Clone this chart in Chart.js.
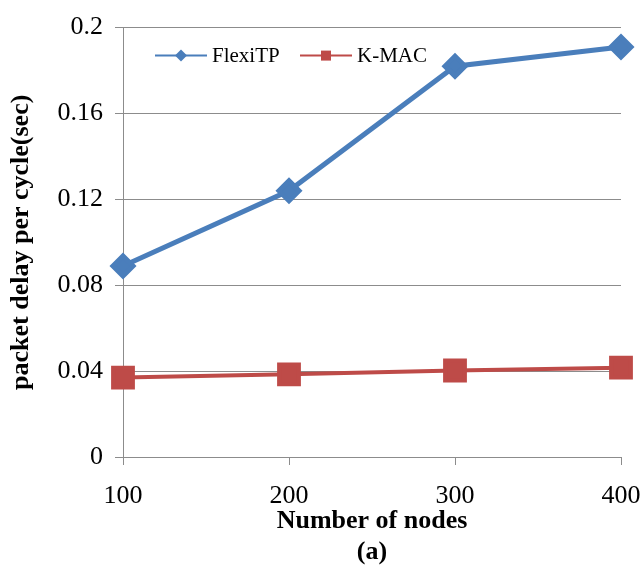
<!DOCTYPE html>
<html>
<head>
<meta charset="utf-8">
<script src="https://cdn.jsdelivr.net/npm/chart.js@4"></script>
<style>
  html, body { margin: 0; padding: 0; background: #fff; }
  #wrap { width: 644px; height: 568px; }
</style>
</head>
<body>
<div id="wrap"><canvas id="c" width="644" height="568"></canvas></div>
<script>
const nodes = [100, 200, 300, 400];
const flexiTP = [0.089, 0.124, 0.182, 0.191];
const kMac = [0.037, 0.0385, 0.0403, 0.0416];
const yTicks = [0, 0.04, 0.08, 0.12, 0.16, 0.2];

const BLUE = "#4a7ebb";
const RED = "#be4b48";
const GRID = "#8c8c8c";
const SERIF = "'Liberation Serif', 'DejaVu Serif', serif";

// legend drawn inside the plot, like the original
const insideLegend = {
  id: "insideLegend",
  afterDraw(chart) {
    const { ctx, chartArea } = chart;
    const y = chartArea.top + 28;
    const items = [
      { x: chartArea.left + 32, c: BLUE, t: "FlexiTP", shape: "diamond" },
      { x: chartArea.left + 177, c: RED, t: "K-MAC", shape: "square" },
    ];
    ctx.save();
    ctx.font = "21px " + SERIF;
    ctx.textBaseline = "middle";
    items.forEach(it => {
      ctx.strokeStyle = it.c;
      ctx.lineWidth = 2;
      ctx.beginPath();
      ctx.moveTo(it.x, y);
      ctx.lineTo(it.x + 52, y);
      ctx.stroke();
      const mx = it.x + 26;
      ctx.fillStyle = it.c;
      ctx.beginPath();
      if (it.shape === "diamond") {
        ctx.moveTo(mx, y - 6); ctx.lineTo(mx + 6, y); ctx.lineTo(mx, y + 6); ctx.lineTo(mx - 6, y);
        ctx.closePath();
      } else {
        ctx.rect(mx - 5, y - 5, 10, 10);
      }
      ctx.fill();
      ctx.fillStyle = "#000";
      ctx.fillText(it.t, it.x + 57, y + 1);
    });
    ctx.restore();
  },
};

new Chart(document.getElementById("c"), {
  type: "line",
  data: {
    datasets: [
      {
        label: "FlexiTP",
        data: nodes.map((n, i) => ({ x: n, y: flexiTP[i] })),
        borderColor: BLUE,
        backgroundColor: BLUE,
        borderWidth: 5,
        pointStyle: "rectRot",
        pointRadius: 10,
        pointHoverRadius: 10,
        tension: 0,
      },
      {
        label: "K-MAC",
        data: nodes.map((n, i) => ({ x: n, y: kMac[i] })),
        borderColor: RED,
        backgroundColor: RED,
        borderWidth: 4,
        pointStyle: "rect",
        pointRadius: 14,
        pointHoverRadius: 14,
        tension: 0,
      },
    ],
  },
  options: {
    responsive: false,
    animation: false,
    clip: false,
    layout: { padding: { left: 0, right: 23, top: 22, bottom: 0 } },
    plugins: {
      legend: { display: false },
      tooltip: { enabled: false },
    },
    scales: {
      x: {
        type: "linear",
        min: 100,
        max: 400,
        afterBuildTicks: s => { s.ticks = nodes.map(v => ({ value: v })); },
        ticks: {
          color: "#000",
          font: { family: SERIF, size: 26 },
          padding: 16,
          maxRotation: 0,
        },
        grid: { drawOnChartArea: false, color: GRID, tickLength: 8 },
        border: { color: GRID, width: 1 },
        title: {
          display: true,
          text: ["Number of nodes", "(a)"],
          color: "#000",
          font: { family: SERIF, size: 26, weight: "bold", lineHeight: 1.2 },
          padding: { top: 0, bottom: 0 },
        },
        afterFit: s => {
          s.height = 111;
          s.paddingLeft = 0;
          s.paddingRight = 0;
        },
      },
      y: {
        min: 0,
        max: 0.2,
        afterBuildTicks: s => { s.ticks = yTicks.map(v => ({ value: v })); },
        ticks: {
          color: "#000",
          font: { family: SERIF, size: 26 },
          padding: 12,
          callback: v => String(Math.round(v * 100) / 100),
        },
        grid: { color: GRID, tickLength: 8 },
        border: { color: GRID, width: 1 },
        title: {
          display: true,
          text: "packet delay per cycle(sec)",
          color: "#000",
          font: { family: SERIF, size: 26, weight: "bold" },
          padding: { top: 6, bottom: 0 },
        },
        afterFit: s => { s.width = 123; },
      },
    },
  },
  plugins: [insideLegend],
});
</script>
</body>
</html>
